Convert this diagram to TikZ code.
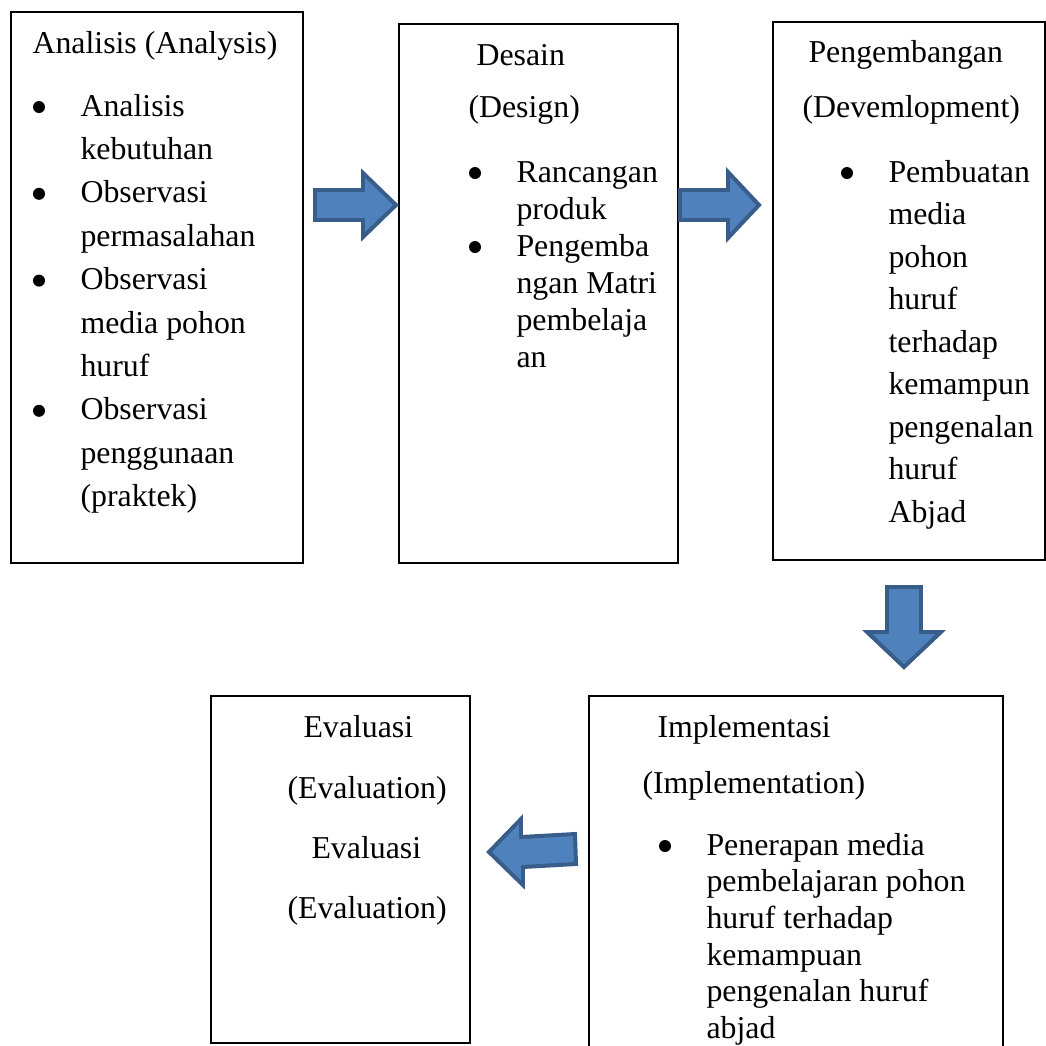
\documentclass[tikz,border=0pt]{standalone}
\usepackage{fontspec}
\setmainfont{Liberation Serif}
\usepackage{xcolor}
\definecolor{ArrowBlue}{HTML}{4F81BD}
\definecolor{ArrowEdge}{HTML}{385D8A}
\newlength{\pxu}
\setlength{\pxu}{0.377pt}

\begin{document}
\begin{tikzpicture}[x=0.377pt, y=-0.377pt,
		box/.style={draw=black, line width=0.6pt, inner sep=0pt, outer sep=0pt, anchor=north west},
		txt/.style={anchor=base west, inner sep=0pt, font=\fontsize{12}{14}\selectfont},
		dot/.style={circle, fill=black, inner sep=0pt, minimum size=12*\pxu},
		blockarrow/.style={fill=ArrowBlue, draw=ArrowEdge, line width=1.5pt, line join=miter}]
		\useasboundingbox (0,0) rectangle (1046,1046);
		\clip (0,0) rectangle (1046,1046);
		
		% Phase boxes
		\node[box, minimum width=292*\pxu, minimum height=551*\pxu] (analisis) at (11,12) {};
		\node[box, minimum width=279*\pxu, minimum height=539*\pxu] (desain) at (399,24) {};
		\node[box, minimum width=272*\pxu, minimum height=538*\pxu] (pengembangan) at (773,22) {};
		\node[box, minimum width=259*\pxu, minimum height=347*\pxu] (evaluasi) at (211,696) {};
		\node[box, minimum width=414*\pxu, minimum height=380*\pxu] (implementasi) at (589,696) {};
		
		% Analisis
		\node[txt] (anl-h) at (32,53) {Analisis (Analysis)};
		\foreach \ty/\tt [count=\i] in {116/Analisis, 159.4/kebutuhan, 202.8/Observasi, 246.2/permasalahan, 289.6/Observasi, 333/media pohon, 376.4/huruf, 419.8/Observasi, 463.2/penggunaan, 506.6/{(praktek)}}
		\node[txt] (anl-\i) at (80,\ty) {\tt};
		\foreach \ty [count=\i] in {116, 202.8, 289.6, 419.8}
		\node[dot] (anl-b\i) at (39,\ty-9) {};
		
		% Desain
		\node[txt] (des-h1) at (476,65) {Desain};
		\node[txt] (des-h2) at (468,117) {(Design)};
		\foreach \ty/\tt [count=\i] in {182/Rancangan, 219/produk, 256/Pengemba, 293/ngan Matri, 330/pembelaja, 367/an}
		\node[txt] (des-\i) at (516,\ty) {\tt};
		\foreach \ty [count=\i] in {182, 256}
		\node[dot] (des-b\i) at (475,\ty-9) {};
		
		% Pengembangan
		\node[txt] (pgb-h1) at (808,62) {Pengembangan};
		\node[txt] (pgb-h2) at (802,117) {(Devemlopment)};
		\foreach \ty/\tt [count=\i] in {182/Pembuatan, 224.5/media, 267/pohon, 309.5/huruf, 352/terhadap, 394.5/kemampun, 437/pengenalan, 479.5/huruf, 522/Abjad}
		\node[txt] (pgb-\i) at (888,\ty) {\tt};
		\node[dot] (pgb-b1) at (847,173) {};
		
		% Implementasi
		\node[txt] (imp-h1) at (657,737) {Implementasi};
		\node[txt] (imp-h2) at (642,793) {(Implementation)};
		\foreach \ty/\tt [count=\i] in {855/Penerapan media, 891.7/pembelajaran pohon, 928.4/huruf terhadap, 965.1/kemampuan, 1001.8/pengenalan huruf, 1038.5/abjad}
		\node[txt] (imp-\i) at (706,\ty) {\tt};
		\node[dot] (imp-b1) at (665,846) {};
		
		% Evaluasi
		\node[txt] (evl-1) at (303,737) {Evaluasi};
		\node[txt] (evl-2) at (287,798) {(Evaluation)};
		\node[txt] (evl-3) at (311,858) {Evaluasi};
		\node[txt] (evl-4) at (287,918) {(Evaluation)};
		
		% Block arrows between the phases
		\draw[blockarrow] (315,190) -- (363,190) -- (363,173) -- (396,205) -- (363,237) -- (363,220) -- (315,220) -- cycle;
		\draw[blockarrow] (680,190) -- (728,190) -- (728,172) -- (759,205) -- (728,238) -- (728,220) -- (680,220) -- cycle;
		\draw[blockarrow] (887,587) -- (921,587) -- (921,632) -- (941,632) -- (904,667) -- (867,632) -- (887,632) -- cycle;
		\draw[blockarrow] (575,834) -- (576,864) -- (523,867) -- (523,885) -- (489,852) -- (521,819) -- (521,837) -- cycle;
	\end{tikzpicture}
\end{document}
